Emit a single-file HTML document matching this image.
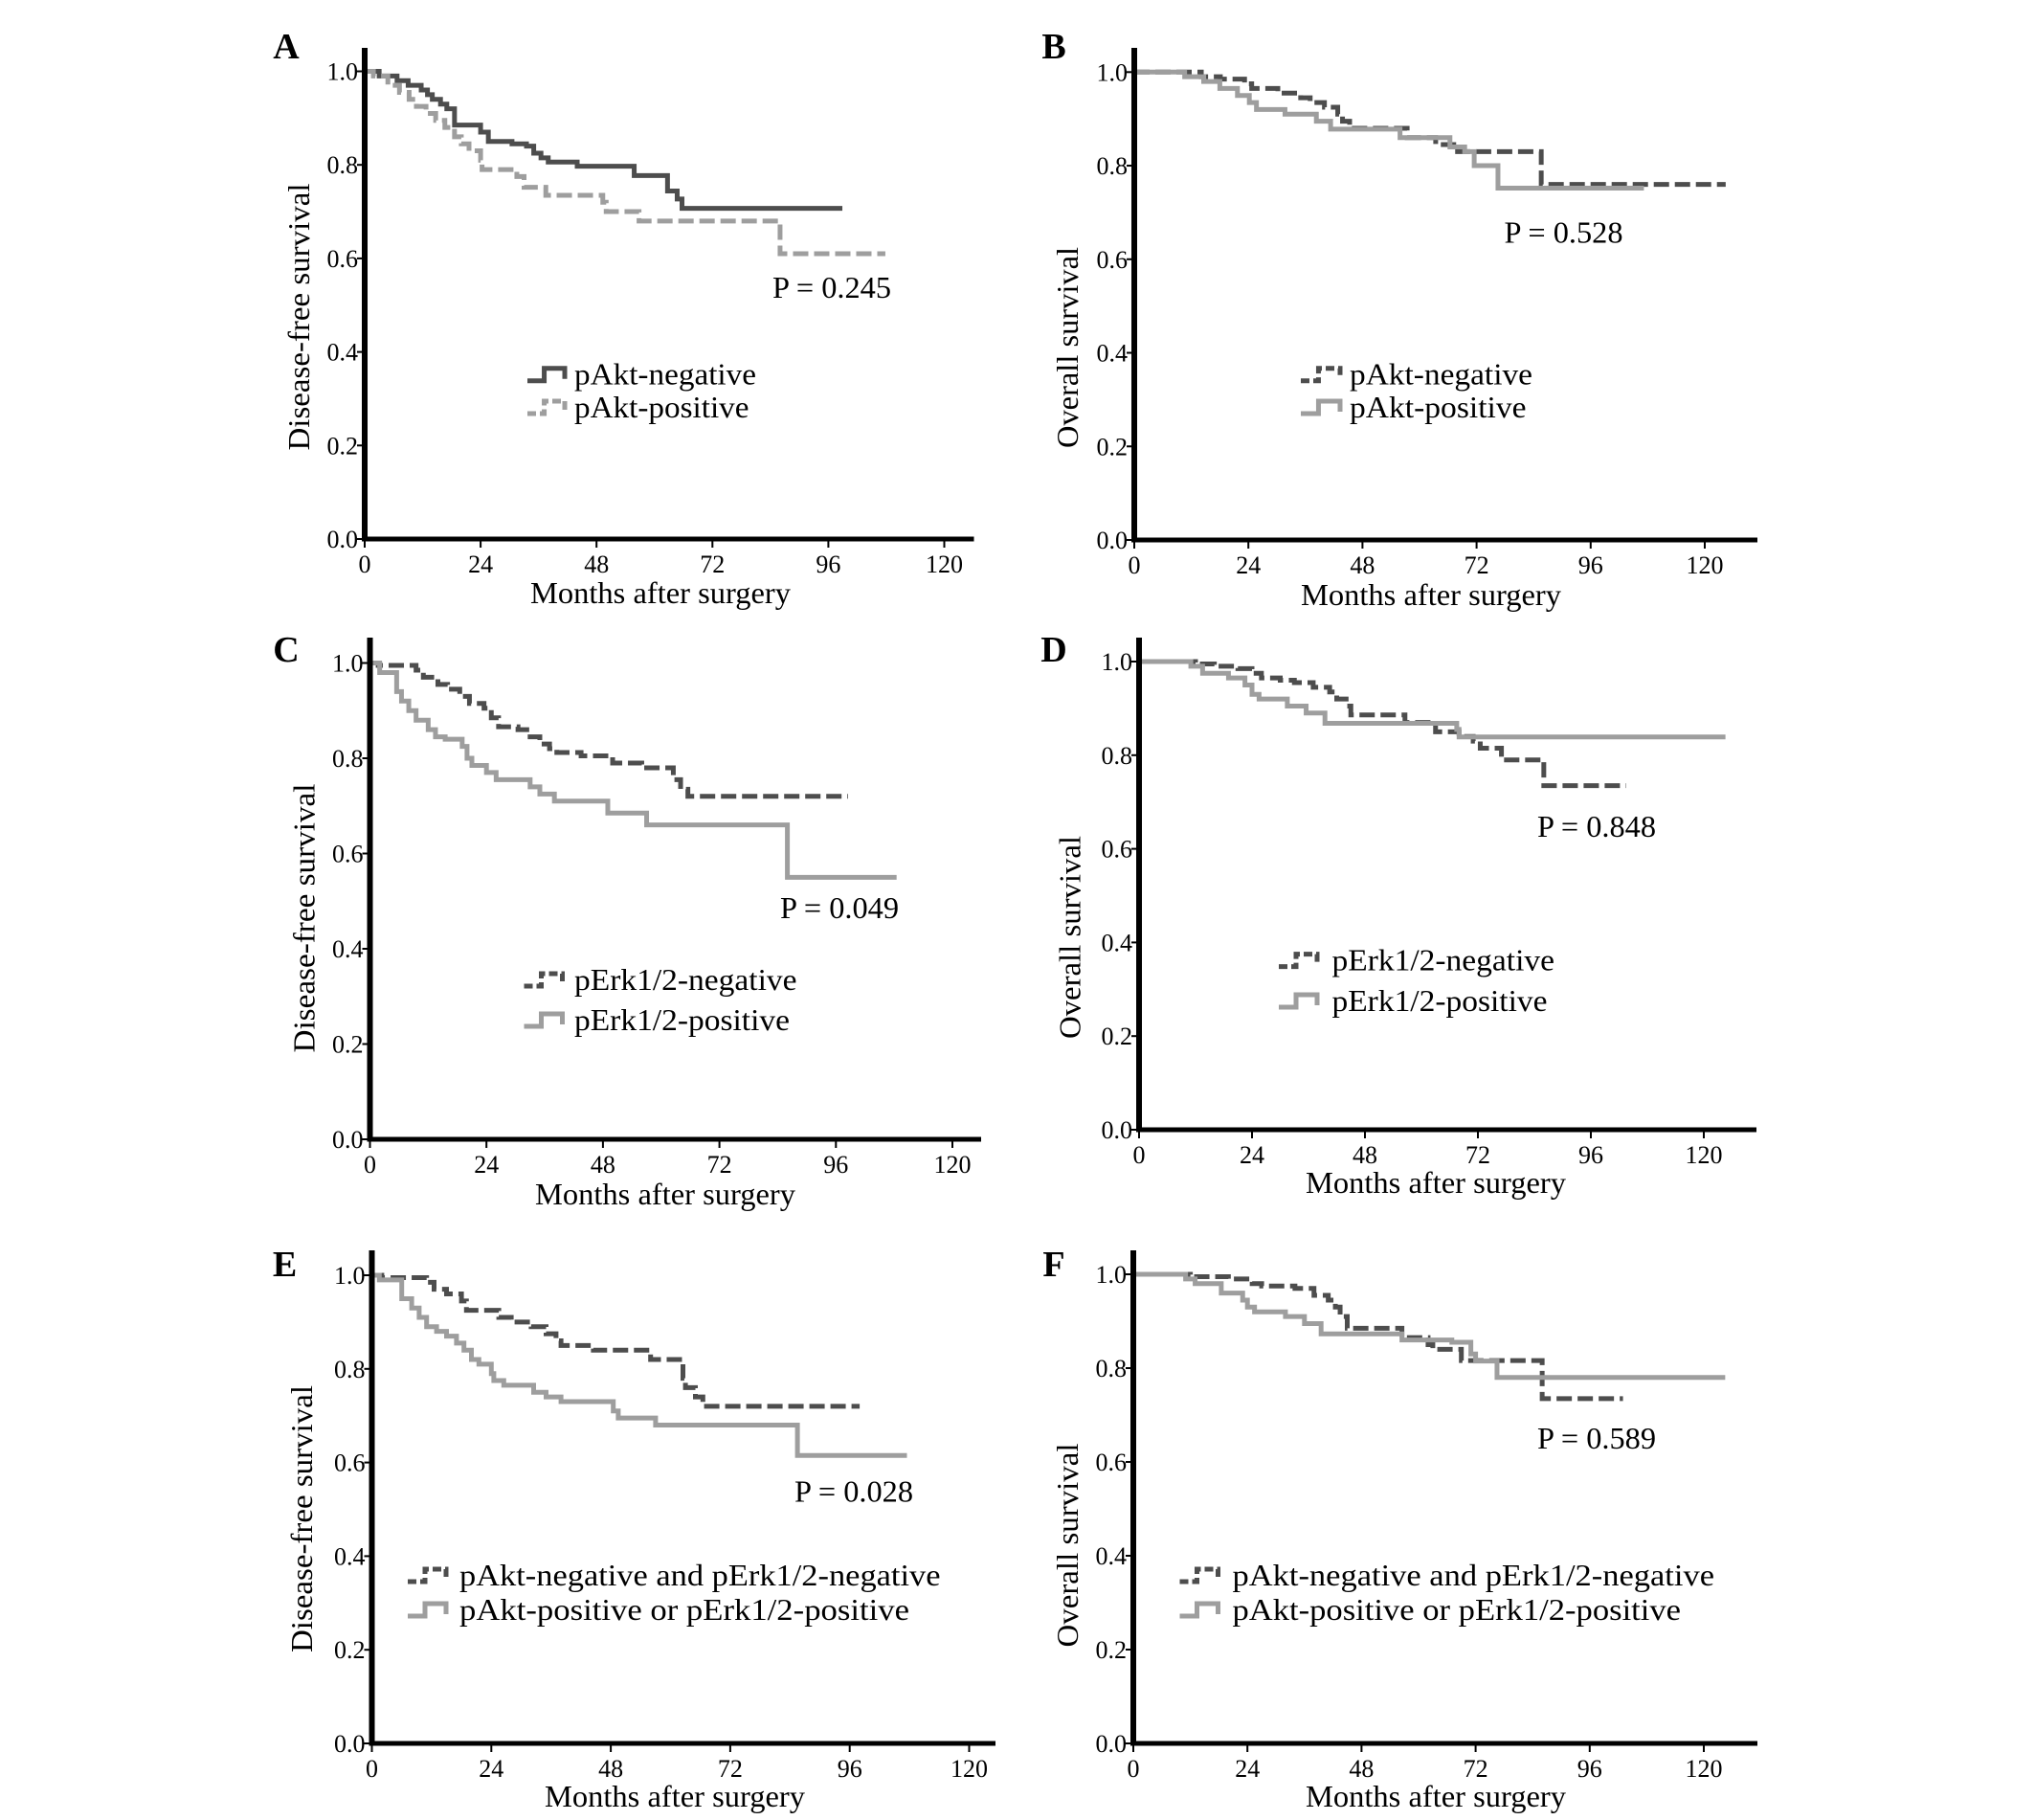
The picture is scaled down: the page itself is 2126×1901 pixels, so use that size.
<!DOCTYPE html>
<html><head><meta charset="utf-8"><style>
html,body{margin:0;padding:0;background:#fff;}
svg{display:block;font-family:"Liberation Serif",serif;}
</style></head><body>
<svg id="fig" width="2126" height="1901" viewBox="0 0 2126 1901" xmlns="http://www.w3.org/2000/svg"></svg>
<script>
const xTicks=[0,24,48,72,96,120];
const yTicks=[0,0.2,0.4,0.6,0.8,1.0];
const yTickLabels=["0.0","0.2","0.4","0.6","0.8","1.0"];
// Panel A
const aNegT=[0,3,6.7,9,11.7,13,14,15.7,17,18.6,24,25.6,30.5,33.5,35,36.5,38,44,55.8,62.7,64.7,65.7,98.9];
const aNegS=[1,0.99,0.98,0.97,0.96,0.95,0.94,0.93,0.92,0.885,0.87,0.85,0.845,0.84,0.825,0.815,0.806,0.797,0.777,0.744,0.727,0.707,0.707];
const aPosT=[0,1.8,4.8,7.2,9.2,10.7,12.7,14.7,16.6,18.6,20,21.6,24,24.3,31.5,33,37.5,49.3,50,56.8,86,107.8];
const aPosS=[1,0.99,0.97,0.955,0.94,0.925,0.91,0.895,0.88,0.86,0.845,0.83,0.81,0.79,0.775,0.752,0.735,0.72,0.70,0.68,0.61,0.61];
// Panel B
const bNegT=[0,14.1,18.1,23.2,24.7,30.2,35,37,40,42.8,43.8,45.3,57.4,63.4,68,85.6,124.4];
const bNegS=[1,0.99,0.985,0.975,0.965,0.955,0.945,0.935,0.925,0.91,0.895,0.88,0.86,0.845,0.83,0.76,0.76];
const bPosT=[0,10.6,14.6,18,21.7,24.2,25.7,31.7,38.3,41.3,55.9,66.4,69.5,71.5,76.5,107.2];
const bPosS=[1,0.99,0.98,0.965,0.95,0.935,0.92,0.91,0.895,0.878,0.86,0.84,0.83,0.80,0.752,0.752];
// Panel C
const cNegT=[0,1.7,9.5,11,14,16,18.5,20.5,23.5,25,26.5,30.5,33,35,37,38.5,43.5,50,56,62.5,64,65.5,98.5];
const cNegS=[1,0.995,0.985,0.97,0.955,0.945,0.93,0.915,0.905,0.885,0.866,0.86,0.845,0.83,0.82,0.812,0.805,0.79,0.78,0.755,0.735,0.72,0.72];
const cPosT=[0,2,5.5,6.5,8,9.5,12,13.5,15.5,19,20,21,24,26,33,35,38,49,57,86,108.5];
const cPosS=[1,0.98,0.94,0.92,0.9,0.88,0.86,0.845,0.84,0.825,0.80,0.785,0.77,0.755,0.74,0.725,0.71,0.685,0.66,0.55,0.55];
// Panel D
const dNegT=[0,12,16,21,24,26,30,33,37,40.5,42,44,45,56.5,63,68,71,72.5,77,86,103.5];
const dNegS=[1,0.995,0.99,0.985,0.975,0.965,0.96,0.955,0.945,0.935,0.92,0.905,0.886,0.87,0.85,0.84,0.83,0.815,0.79,0.735,0.735];
const dPosT=[0,11,13.5,19,22.5,24,25.5,31.5,35.5,39.5,67.5,68,124.6];
const dPosS=[1,0.99,0.975,0.965,0.95,0.93,0.92,0.905,0.89,0.868,0.855,0.839,0.839];
// Panel E
const eNegT=[0,2,11,12.5,15,18,19,25.5,28,32,35,37,38,44.5,56,62.5,63,65,66.5,98];
const eNegS=[1,0.995,0.985,0.97,0.96,0.945,0.925,0.91,0.9,0.89,0.875,0.86,0.85,0.84,0.82,0.78,0.76,0.74,0.72,0.72];
const ePosT=[0,1.5,6,8,9.5,11,13,15,17,18.5,20,21.5,24,24.5,26.5,32.5,35,38,48.5,49.5,57,85.5,107.5];
const ePosS=[1,0.99,0.95,0.93,0.91,0.89,0.88,0.87,0.855,0.84,0.82,0.81,0.79,0.775,0.765,0.75,0.74,0.73,0.71,0.695,0.68,0.615,0.615];
// Panel F
const fNegT=[0,12,20,25,27,34,38,41,42.5,43.5,45,56.5,62,63,69,86,103];
const fNegS=[1,0.995,0.99,0.98,0.975,0.97,0.955,0.945,0.93,0.91,0.885,0.865,0.85,0.84,0.816,0.735,0.735];
const fPosT=[0,11,13,18.5,23,24,25.5,32,36,39.5,56.5,67,71,72,76.5,124.5];
const fPosS=[1,0.99,0.98,0.96,0.945,0.93,0.92,0.91,0.895,0.873,0.86,0.855,0.83,0.815,0.78,0.78];

const DARK="#4d4d4d", GREY="#9e9e9e";
const panels=[
 {id:"a",letter:"A",x0:381,x120:986.5,y1:74.5,y0:563,top:50,xend:1017.5,lx:299,ly:48,
  ytitle:"Disease-free survival",ytx:312,yty:331,ytl:279,xtx:690,xty:630,
  p:"P = 0.245",px:807,py:311,
  leg:[{t:"pAkt-negative",w:190},{t:"pAkt-positive",w:182.5}],sx0:551,sx1:590,tx:600,lb:[401.7,436],
  series:[{T:aNegT,S:aNegS,c:DARK,dash:false},{T:aPosT,S:aPosS,c:GREY,dash:true}]},
 {id:"b",letter:"B",x0:1185,x120:1781,y1:75.3,y0:564,top:50,xend:1836,lx:1101,ly:48,
  ytitle:"Overall survival",ytx:1115,yty:363,ytl:210,xtx:1495,xty:632,
  p:"P = 0.528",px:1571.5,py:253.4,
  leg:[{t:"pAkt-negative",w:191},{t:"pAkt-positive",w:184.5}],sx0:1359,sx1:1400,tx:1410,lb:[401.7,436],
  series:[{T:bNegT,S:bNegS,c:DARK,dash:true},{T:bPosT,S:bPosS,c:GREY,dash:false}]},
 {id:"c",letter:"C",x0:386.5,x120:995,y1:692.5,y0:1190,top:666,xend:1025,lx:299,ly:678,
  ytitle:"Disease-free survival",ytx:317.5,yty:959,ytl:281,xtx:695,xty:1258,
  p:"P = 0.049",px:815,py:959,
  leg:[{t:"pErk1/2-negative",w:232.5},{t:"pErk1/2-positive",w:225}],sx0:547.5,sx1:587.5,tx:600,lb:[1034,1076],
  series:[{T:cNegT,S:cNegS,c:DARK,dash:true},{T:cPosT,S:cPosS,c:GREY,dash:false}]},
 {id:"d",letter:"D",x0:1190,x120:1780,y1:691,y0:1180,top:666,xend:1835,lx:1101,ly:678,
  ytitle:"Overall survival",ytx:1117.5,yty:979,ytl:212,xtx:1500,xty:1246,
  p:"P = 0.848",px:1606,py:874,
  leg:[{t:"pErk1/2-negative",w:232.5},{t:"pErk1/2-positive",w:225}],sx0:1336,sx1:1376,tx:1391.5,lb:[1013.6,1056],
  series:[{T:dNegT,S:dNegS,c:DARK,dash:true},{T:dPosT,S:dPosS,c:GREY,dash:false}]},
 {id:"e",letter:"E",x0:388.5,x120:1012.5,y1:1332,y0:1821,top:1306,xend:1040,lx:297.5,ly:1320,
  ytitle:"Disease-free survival",ytx:315,yty:1586.5,ytl:279,xtx:705,xty:1887,
  p:"P = 0.028",px:830,py:1568.6,
  leg:[{t:"pAkt-negative  and  pErk1/2-negative",w:502.5},{t:"pAkt-positive  or  pErk1/2-positive",w:470}],sx0:426,sx1:466,tx:480,lb:[1656,1692],
  series:[{T:eNegT,S:eNegS,c:DARK,dash:true},{T:ePosT,S:ePosS,c:GREY,dash:false}]},
 {id:"f",letter:"F",x0:1184,x120:1780,y1:1331,y0:1821,top:1306,xend:1836,lx:1101,ly:1320,
  ytitle:"Overall survival",ytx:1115,yty:1614,ytl:213,xtx:1500,xty:1887,
  p:"P = 0.589",px:1606,py:1513,
  leg:[{t:"pAkt-negative  and  pErk1/2-negative",w:503.5},{t:"pAkt-positive  or  pErk1/2-positive",w:468.5}],sx0:1232.5,sx1:1272.5,tx:1287.5,lb:[1656,1692],
  series:[{T:fNegT,S:fNegS,c:DARK,dash:true},{T:fPosT,S:fPosS,c:GREY,dash:false}]}
];
const NS="http://www.w3.org/2000/svg";
const svg=document.getElementById("fig");
function mk(tag,attrs,parent){const e=document.createElementNS(NS,tag);for(const k in attrs)e.setAttribute(k,attrs[k]);parent.appendChild(e);return e;}
function txt(parent,s,attrs){const e=mk("text",attrs,parent);e.textContent=s;return e;}
panels.forEach(P=>{
  const g=mk("g",{},svg);
  
  
  const X=m=>P.x0+(P.x120-P.x0)*m/120;
  const Y=s=>P.y0-(P.y0-P.y1)*s;
  const lab=txt(g,P.letter,{x:P.lx,y:P.ly+13,"font-size":38,"font-weight":"bold","text-anchor":"middle"});
  
  
  // series
  P.series.forEach((s,i)=>{
    let d="M"+X(s.T[0])+","+Y(s.S[0]);
    for(let k=1;k<s.T.length;k++){d+=" H"+X(s.T[k])+" V"+Y(s.S[k]);}
    const p=mk("path",{d:d,fill:"none",stroke:s.c,"stroke-width":5,"stroke-dasharray":s.dash?"16 6":"none"},g);
    
    
  });
  // axes
  const ya=mk("line",{x1:P.x0,y1:P.top,x2:P.x0,y2:P.y0+2,stroke:"#000","stroke-width":6},g);
  
  
  const xa=mk("line",{x1:P.x0-3,y1:P.y0,x2:P.xend,y2:P.y0,stroke:"#000","stroke-width":5},g);
  
  
  yTicks.forEach((v,i)=>{
    mk("line",{x1:P.x0-8,y1:Y(v),x2:P.x0,y2:Y(v),stroke:"#000","stroke-width":2},g);
    const t=txt(g,yTickLabels[i],{x:P.x0-7,y:Y(v)+9,"font-size":26,"text-anchor":"end"});
    
    
  });
  xTicks.forEach(v=>{
    mk("line",{x1:X(v),y1:P.y0,x2:X(v),y2:P.y0+9,stroke:"#000","stroke-width":2},g);
    const t=txt(g,String(v),{x:X(v),y:P.y0+35,"font-size":26,"text-anchor":"middle"});
    
    
  });
  const xt=txt(g,"Months after surgery",{x:P.xtx,y:P.xty,"font-size":32,"text-anchor":"middle",textLength:272,lengthAdjust:"spacingAndGlyphs"});
  
  
  const yt=txt(g,P.ytitle,{x:0,y:0,"font-size":32,"text-anchor":"middle",textLength:P.ytl,lengthAdjust:"spacingAndGlyphs",transform:"translate("+(P.ytx+11)+","+P.yty+") rotate(-90)"});
  
  
  const pv=txt(g,P.p,{x:P.px,y:P.py,"font-size":32,textLength:124,lengthAdjust:"spacingAndGlyphs"});
  
  
  // legend
  P.leg.forEach((L,i)=>{
    const s=P.series[i];
    const yb=P.lb[i]-4, ytp=yb-13, xm=P.sx0+(P.sx1-P.sx0)*0.45;
    const sw=mk("path",{d:"M"+P.sx0+","+yb+" H"+xm+" V"+ytp+" H"+P.sx1+" V"+(yb-2),fill:"none",stroke:s.c,"stroke-width":5,"stroke-dasharray":s.dash?"9 4":"none"},g);
    
    
    const lt=txt(g,L.t,{x:P.tx,y:P.lb[i],"font-size":32,textLength:L.w,lengthAdjust:"spacingAndGlyphs","xml:space":"preserve"});
    
    
  });
});
</script>
</body></html>
